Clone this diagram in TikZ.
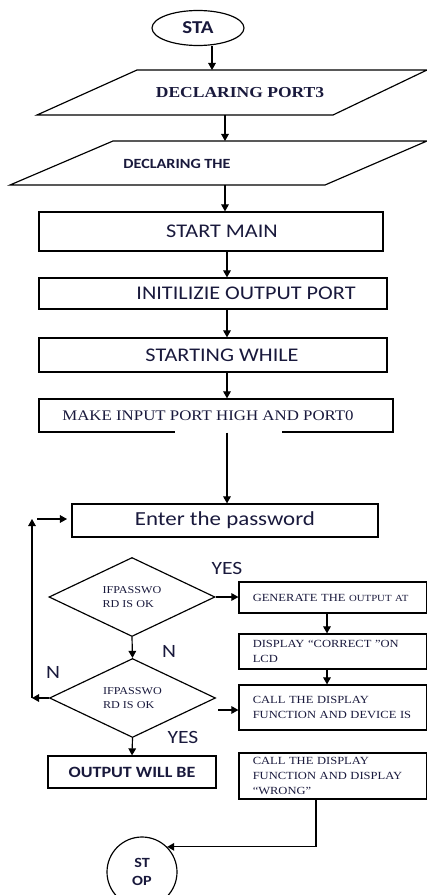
\documentclass[tikz,border=0pt]{standalone}
\usepackage{fontspec}
\setmainfont{Liberation Serif}[FakeStretch=1.15]
\newfontfamily\calib{Carlito}[FakeStretch=1.15]
\usetikzlibrary{arrows.meta, shapes.geometric}
\definecolor{ink}{RGB}{25,25,60}

\begin{document}
\begin{tikzpicture}[x=0.03cm, y=-0.03cm, line width=1pt,
	arr/.style={-{Triangle[length=6pt, width=6.5pt]}},
	box/.style={draw, rectangle, inner sep=0pt, text=ink},
	sbox/.style={box, font=\calib\fontsize{16.5}{19}\selectfont},
	rbox/.style={box, minimum width=5.625cm, text width=4.8cm, align=left, font=\fontsize{9.3}{12.5}\selectfont},
	decide/.style={draw, diamond, aspect=2, inner sep=0pt, minimum width=4.98cm, minimum height=2.37cm, align=left, text=ink, font=\fontsize{9}{11.5}\selectfont},
	answer/.style={text=ink, inner sep=0pt, font=\calib\fontsize{16}{19}\selectfont}]
\useasboundingbox (0,0) rectangle (427,895);

\coordinate (pa1) at (137,70);
\coordinate (pb1) at (427,70);
\coordinate (pc1) at (333,115);
\coordinate (pd1) at (37,115);
\coordinate (pa2) at (113,141);
\coordinate (pb2) at (427,141);
\coordinate (pc2) at (325,185);
\coordinate (pd2) at (10,185);
\coordinate (col) at (227,0);
\coordinate (col2) at (327,0);

\node[draw, ellipse, minimum width=2.76cm, minimum height=1.05cm, inner sep=0pt, text=ink, font=\calib\bfseries\fontsize{15.5}{18}\selectfont] (sta) at (198,28) {STA};

\draw (pa1) -- (pb1) -- (pc1) -- (pd1) -- cycle;
\node[text=ink, font=\bfseries\fontsize{13}{15}\selectfont] (port3) at (240,93) {DECLARING PORT3};
\draw (pa2) -- (pb2) -- (pc2) -- (pd2) -- cycle;
\node[text=ink, font=\calib\bfseries\fontsize{12}{14}\selectfont] (decl) at (177,164) {DECLARING THE};

\node[sbox, minimum width=10.32cm, minimum height=1.17cm] (main) at (211,231.5) {\hspace*{0.66cm}START MAIN};
\node[sbox, minimum width=10.44cm, minimum height=0.93cm] (init) at (213,293.5) {\hspace*{1.98cm}INITILIZIE OUTPUT PORT};
\node[sbox, minimum width=10.44cm, minimum height=1.02cm] (while) at (213,355) {\hspace*{0.54cm}STARTING WHILE};
\node[box, minimum width=10.62cm, minimum height=0.99cm, font=\fontsize{12.5}{15}\selectfont] (make) at (216,415.5) {MAKE INPUT PORT HIGH AND PORT0\hspace*{0.48cm}};
\fill[white] (175,430) rectangle (282,434);
\node[box, minimum width=9.18cm, minimum height=0.99cm, font=\calib\fontsize{17}{20}\selectfont] (enter) at (225,520.5) {Enter the password};

\node[decide] (d1) at (132,597) {IFPASSWO\\RD IS OK};
\node[decide] (d2) at (132.5,698) {IFPASSWO\\RD IS OK};
\node[box, minimum width=5.04cm, minimum height=0.96cm, font=\calib\bfseries\fontsize{13.4}{16}\selectfont] (out) at (132,772) {OUTPUT WILL BE};

\node[rbox, minimum height=0.93cm] (gen) at (332.75,597.5) {GENERATE THE {\fontsize{8}{10}\selectfont OUTPUT AT}};
\node[rbox, minimum height=1.05cm] (disp) at (332.75,651.5) {DISPLAY “CORRECT ”ON\\LCD};
\node[rbox, minimum height=1.35cm] (calldev) at (332.75,707.5) {CALL THE DISPLAY\\FUNCTION AND DEVICE IS};
\node[rbox, minimum height=1.38cm] (wrong) at (332.75,776) {CALL THE DISPLAY\\FUNCTION AND DISPLAY\\“WRONG”};

\node[draw, circle, minimum size=2.1cm, inner sep=0pt, align=center, text=ink, font=\calib\bfseries\fontsize{12}{15}\selectfont] (stop) at (142,872) {ST\\OP};

\node[answer] (yes1) at (227,568) {YES};
\node[answer] (no1) at (169,651) {N};
\node[answer] (no2) at (53,672) {N};
\node[answer] (yes2) at (183,737) {YES};

\coordinate (a1) at (212,70);
\coordinate (a2) at (225,115);
\coordinate (a3) at (225,141);
\coordinate (a4) at (225,185);
\draw[arr] (a1 |- sta.south) -- (a1);
\draw[arr] (a2) -- (a3);
\draw[arr] (a4) -- (a4 |- main.north);
\draw[arr] (main.south -| col) -- (init.north -| col);
\draw[arr] (init.south -| col) -- (while.north -| col);
\draw[arr] (while.south -| col) -- (make.north -| col);
\draw[arr] (make.south -| col) -- (enter.north -| col);

\draw[arr] (d1.east) -- (gen.west |- d1.east);
\draw[arr] (d1.south) -- (d2.north);
\draw[arr] (d2.south) -- (out.north);
\draw[arr] (gen.south -| col2) -- (disp.north -| col2);
\draw[arr] (disp.south -| col2) -- (calldev.north -| col2);

\coordinate (c1) at (218,710);
\draw[arr] (c1) -- (c1 -| calldev.west);

\coordinate (lp) at (32,698);
\coordinate (lq) at (32,519);
\coordinate (lr) at (37,519);
\coordinate (ls) at (67,519);
\draw[arr] (d2.west) -- (lp);
\draw[arr] (lp) -- (lq);
\draw[arr] (lr) -- (ls);

\coordinate (w1) at (316,0);
\draw[arr] (wrong.south -| w1) |- (stop.north east);
\end{tikzpicture}
\end{document}
